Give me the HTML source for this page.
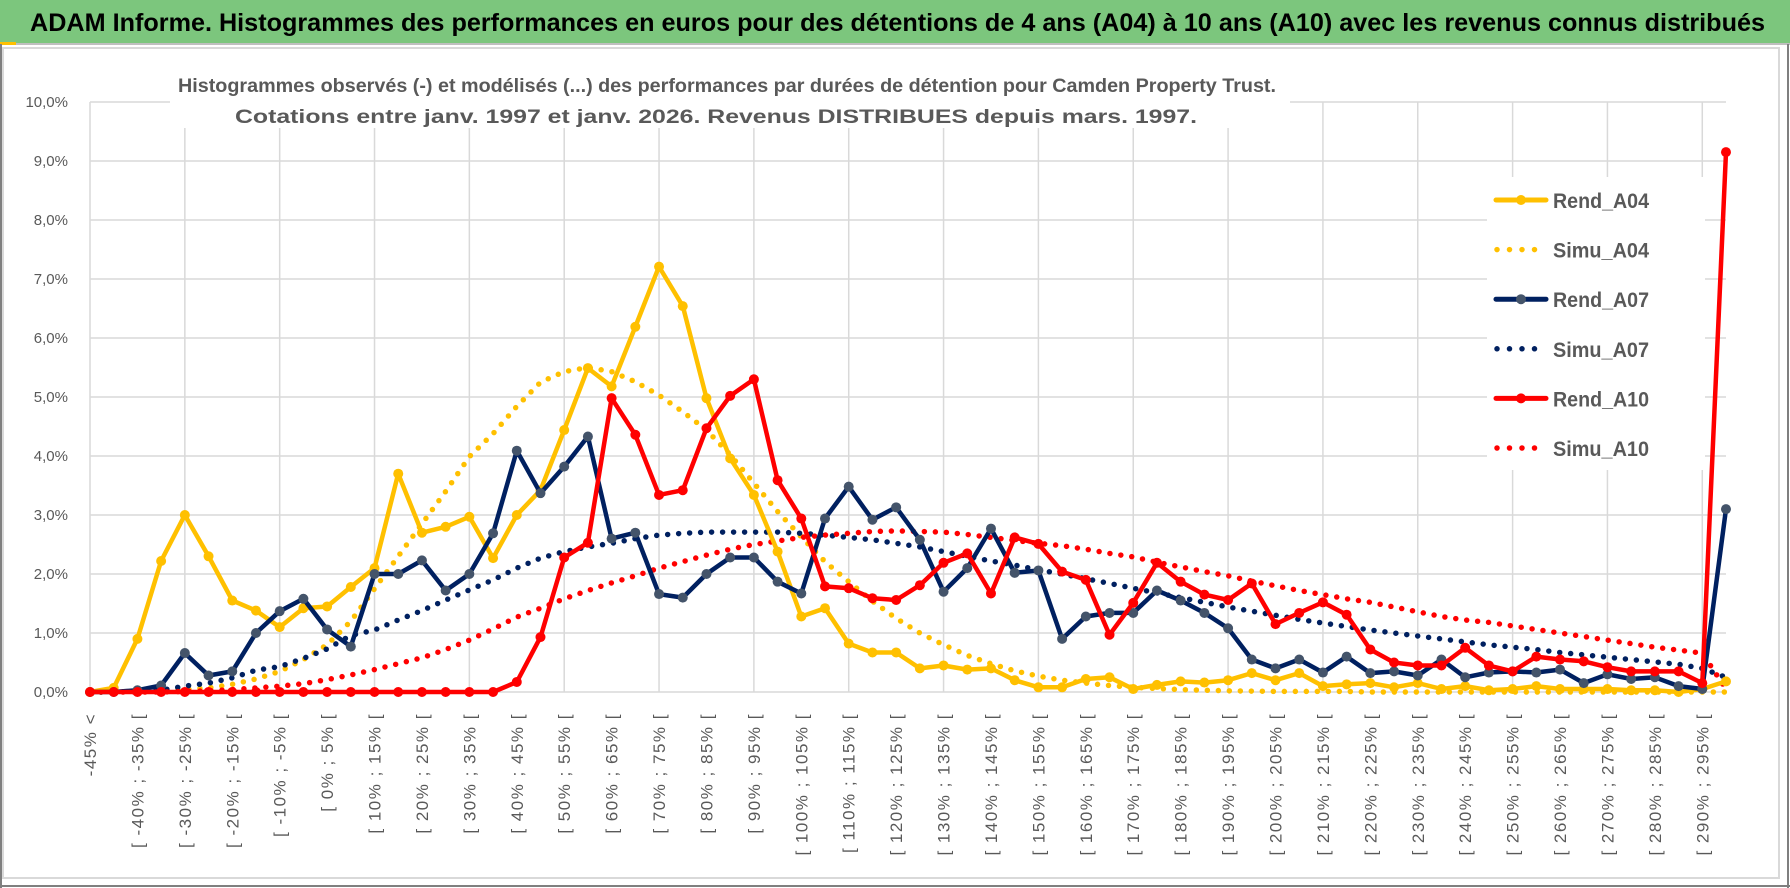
<!DOCTYPE html>
<html><head><meta charset="utf-8"><style>
html,body{margin:0;padding:0;background:#fff;}
svg{display:block;font-family:"Liberation Sans",sans-serif;}
</style></head><body>
<svg id="chart" width="1790" height="888" viewBox="0 0 1790 888" xmlns="http://www.w3.org/2000/svg">
<rect x="0" y="0" width="1790" height="888" fill="#fff"/>
<rect x="0" y="0" width="1790" height="43" fill="#7cc67d"/>
<line x1="0" y1="44" x2="1790" y2="44" stroke="#bfbfbf" stroke-width="2"/>
<rect x="0" y="42" width="16" height="3" fill="#ffc000"/>
<text x="30" y="31" font-size="25" font-weight="bold" fill="#000" textLength="1735" lengthAdjust="spacingAndGlyphs">ADAM Informe. Histogrammes des performances en euros pour des détentions de 4 ans (A04) à 10 ans (A10) avec les revenus connus distribués</text>
<rect x="3" y="48" width="1776" height="830" fill="none" stroke="#d9d9d9" stroke-width="2"/>
<line x1="1" y1="44" x2="1" y2="888" stroke="#7f7f7f" stroke-width="2"/>
<line x1="0" y1="886" x2="1790" y2="886" stroke="#7f7f7f" stroke-width="2"/>
<line x1="1788" y1="44" x2="1788" y2="888" stroke="#7f7f7f" stroke-width="2"/>
<g id="grid"></g>
<rect x="170" y="62" width="1120" height="66" fill="#fff"/>
<text x="727" y="92" text-anchor="middle" font-size="19" font-weight="bold" fill="#595959" textLength="1098" lengthAdjust="spacingAndGlyphs">Histogrammes observés (-) et modélisés (...) des performances par durées de détention pour Camden Property Trust.</text>
<text x="716" y="123" text-anchor="middle" font-size="19" font-weight="bold" fill="#595959" textLength="962" lengthAdjust="spacingAndGlyphs">Cotations entre janv. 1997 et janv. 2026. Revenus DISTRIBUES depuis mars. 1997.</text>
<g id="yaxis"></g>
<g id="xaxis"></g>
<g id="series"></g>
<g id="legend"></g>
</svg>
<script>
const rendA04 = [0,0.07,0.9,2.22,3.0,2.3,1.55,1.38,1.1,1.42,1.45,1.78,2.1,3.7,2.7,2.8,2.97,2.27,3.0,3.42,4.44,5.49,5.18,6.19,7.21,6.54,4.98,3.96,3.34,2.38,1.28,1.42,0.82,0.67,0.67,0.4,0.45,0.38,0.4,0.2,0.08,0.08,0.22,0.25,0.05,0.12,0.18,0.16,0.2,0.32,0.2,0.32,0.1,0.13,0.15,0.08,0.15,0.05,0.1,0.03,0.05,0.1,0.05,0.05,0.05,0.03,0.03,0.0,0.05,0.18];
const simuA04 = [0,0,0.01,0.02,0.04,0.07,0.13,0.22,0.35,0.55,0.8,1.2,1.75,2.3,2.85,3.4,3.99,4.38,4.84,5.25,5.43,5.5,5.43,5.26,5.03,4.75,4.44,4.02,3.54,3.06,2.63,2.21,1.87,1.54,1.25,1.0,0.8,0.62,0.48,0.36,0.27,0.2,0.15,0.11,0.08,0.06,0.04,0.03,0.02,0.015,0.01,0.01,0.01,0.01,0,0,0,0,0,0,0,0,0,0,0,0,0,0,0,0];
const rendA07 = [0,0,0.03,0.11,0.66,0.28,0.35,1.0,1.37,1.58,1.06,0.77,2.0,2.0,2.23,1.72,2.0,2.69,4.09,3.37,3.82,4.33,2.6,2.7,1.66,1.6,2.0,2.28,2.28,1.87,1.67,2.94,3.48,2.92,3.13,2.58,1.7,2.1,2.77,2.02,2.06,0.9,1.28,1.34,1.34,1.72,1.55,1.34,1.08,0.55,0.4,0.55,0.33,0.6,0.32,0.35,0.28,0.55,0.25,0.33,0.35,0.33,0.38,0.15,0.3,0.22,0.25,0.1,0.05,3.1];
const simuA07 = [0,0,0.01,0.03,0.1,0.15,0.24,0.37,0.43,0.57,0.73,0.96,1.05,1.22,1.38,1.56,1.73,1.9,2.1,2.27,2.38,2.46,2.52,2.6,2.66,2.69,2.71,2.71,2.71,2.71,2.69,2.66,2.62,2.58,2.52,2.46,2.38,2.3,2.22,2.15,2.07,2.0,1.92,1.84,1.76,1.68,1.6,1.52,1.44,1.37,1.3,1.23,1.17,1.11,1.05,1.0,0.95,0.9,0.85,0.8,0.76,0.72,0.67,0.63,0.59,0.55,0.51,0.47,0.4,0.25];
const rendA10 = [0,0,0,0,0,0,0,0,0,0,0,0,0,0,0,0,0,0,0.17,0.93,2.28,2.53,4.98,4.36,3.34,3.42,4.47,5.02,5.3,3.59,2.94,1.79,1.76,1.59,1.56,1.81,2.19,2.35,1.67,2.62,2.51,2.04,1.9,0.97,1.51,2.19,1.87,1.65,1.56,1.84,1.15,1.34,1.52,1.31,0.72,0.5,0.45,0.45,0.75,0.45,0.35,0.6,0.55,0.52,0.42,0.35,0.35,0.35,0.15,9.15];
const simuA10 = [0,0,0,0,0.01,0.02,0.04,0.07,0.1,0.14,0.21,0.29,0.38,0.48,0.58,0.72,0.88,1.07,1.27,1.42,1.58,1.72,1.85,1.97,2.1,2.21,2.32,2.42,2.5,2.56,2.62,2.66,2.69,2.72,2.73,2.72,2.71,2.67,2.62,2.57,2.52,2.48,2.42,2.35,2.29,2.2,2.12,2.04,1.97,1.88,1.8,1.72,1.65,1.58,1.52,1.44,1.36,1.28,1.22,1.18,1.12,1.06,1.0,0.94,0.88,0.82,0.76,0.71,0.66,0.05];
const yTicks = [0,1,2,3,4,5,6,7,8,9,10];
const yTickLabels = ["0,0%","1,0%","2,0%","3,0%","4,0%","5,0%","6,0%","7,0%","8,0%","9,0%","10,0%"];
const categories = ["-45% <"];
for (let k = 1; k < 70; k++) { const a = -45 + 5*(k-1); categories.push("[ " + a + "% ; " + (a+5) + "% ["); }

const NS = "http://www.w3.org/2000/svg";
const X0 = 90, DX = 23.71, Y0 = 692, DY = 59;
function xs(k){ return X0 + DX*k; }
function ys(v){ return Y0 - DY*v; }
function mk(tag, attrs, parent){ const e = document.createElementNS(NS, tag); for (const a in attrs) e.setAttribute(a, attrs[a]); parent.appendChild(e); return e; }

const grid = document.getElementById('grid');
yTicks.forEach(t => {
  const l = mk('line', {x1: X0, x2: xs(69), y1: ys(t), y2: ys(t), stroke: '#d9d9d9', 'stroke-width': 1.5}, grid);
  
  
});
for (let k = 0; k < categories.length; k += 4) {
  const l = mk('line', {x1: xs(k), x2: xs(k), y1: ys(10), y2: ys(0), stroke: '#d9d9d9', 'stroke-width': 1.5}, grid);
  
  
}
const yax = document.getElementById('yaxis');
yTicks.forEach((t, i) => {
  const tx = mk('text', {x: 68, y: ys(t) + 5, 'text-anchor': 'end', 'font-size': 15, fill: '#595959'}, yax);
  tx.textContent = yTickLabels[i];
  
  
});
const xax = document.getElementById('xaxis');
categories.forEach((c, k) => {
  if (k % 2) return;
  const x = xs(k) + 6, y = 713;
  const tx = mk('text', {x: x, y: y, 'text-anchor': 'end', 'font-size': 17, 'letter-spacing': 1.5, fill: '#595959', transform: 'rotate(-90 ' + x + ' ' + y + ')'}, xax);
  tx.textContent = c;
  
  
});

const ser = document.getElementById('series');
function pts(arr){ return arr.map((v,k) => xs(k).toFixed(1) + ',' + ys(v).toFixed(1)).join(' '); }
function dotted(arr, color, name){
  const p = mk('polyline', {points: pts(arr), fill: 'none', stroke: color, 'stroke-width': 5.5, 'stroke-linecap': 'round', 'stroke-dasharray': '0 11'}, ser);
  
  
}
function solid(arr, color, mcolor, name){
  const g = mk('g', {}, ser);
  
  
  mk('polyline', {points: pts(arr), fill: 'none', stroke: color, 'stroke-width': 4.5, 'stroke-linejoin': 'round'}, g);
  arr.forEach((v,k) => {
    const c = mk('circle', {cx: xs(k), cy: ys(v), r: 5, fill: mcolor}, g);
    
    
  });
}
dotted(simuA04, '#ffc000', 'simu-a04-line');
dotted(simuA07, '#002060', 'simu-a07-line');
dotted(simuA10, '#ff0000', 'simu-a10-line');
solid(rendA04, '#ffc000', '#ffc000', 'rend-a04-line');
solid(rendA07, '#002060', '#44546a', 'rend-a07-line');
solid(rendA10, '#ff0000', '#ff0000', 'rend-a10-line');

const leg = document.getElementById('legend');
mk('rect', {x: 1487, y: 177, width: 218, height: 293, fill: '#fff'}, leg);
const entries = [['Rend_A04','#ffc000','#ffc000',false],['Simu_A04','#ffc000','',true],['Rend_A07','#002060','#44546a',false],['Simu_A07','#002060','',true],['Rend_A10','#ff0000','#ff0000',false],['Simu_A10','#ff0000','',true]];
entries.forEach((e, i) => {
  const y = 200 + i*49.6;
  const g = mk('g', {}, leg);
  
  
  if (e[3]) {
    mk('line', {x1: 1497, x2: 1547, y1: y, y2: y, stroke: e[1], 'stroke-width': 5.5, 'stroke-linecap': 'round', 'stroke-dasharray': '0 12.5'}, g);
  } else {
    mk('line', {x1: 1496, x2: 1546, y1: y, y2: y, stroke: e[1], 'stroke-width': 5, 'stroke-linecap': 'round'}, g);
    mk('circle', {cx: 1521, cy: y, r: 5, fill: e[2]}, g);
  }
  const t = mk('text', {x: 1553, y: y + 8, 'font-size': 21, 'font-weight': 'bold', fill: '#595959', textLength: 96, lengthAdjust: 'spacingAndGlyphs'}, g);
  t.textContent = e[0];
});
</script>
</body></html>
